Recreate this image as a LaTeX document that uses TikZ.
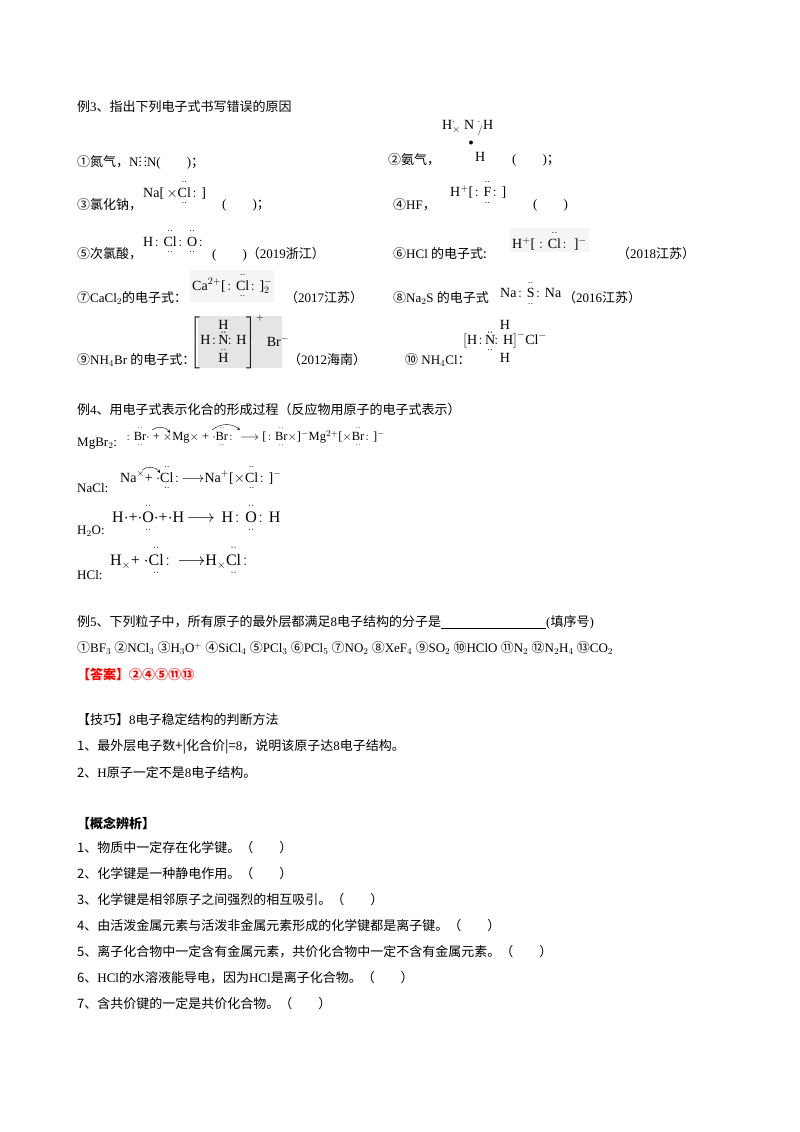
\documentclass[tikz,border=0pt]{standalone}
\usepackage{amsmath}
\usepackage{fontspec}
\setmainfont{Liberation Serif}
\newfontfamily\cjk{Noto Sans CJK SC}
\newcommand\ele[1]{\ensuremath{\overset{\cdot\cdot}{\underset{\cdot\cdot}{\mbox{#1}}}}}
\newcommand\elt[1]{\ensuremath{\overset{\cdot\cdot}{\mbox{#1}}}}
\begin{document}
\begin{tikzpicture}[x=1pt,y=-1pt,
  t/.style={anchor=west,inner sep=0pt,font=\fontsize{13}{15}\selectfont},
  s/.style={anchor=west,inner sep=0pt,font=\fontsize{14}{16}\selectfont}]
\useasboundingbox (0,0) rectangle (800,1132);
\node[t] (e3) at (77,107) {{\cjk 例}3{\cjk 、指出下列电子式书写错误的原因}};
\node[t] (a1) at (77,160) {{\cjk ①氮气，}N$\vdots\,\vdots$N(\qquad){\cjk ；}};
\node[t] (a2) at (388,160) {{\cjk ②氨气，}};
\node[s] (a2a) at (442,128) {H$^{\cdot}_{\times}$\ N\ $^{\cdot}_{/}$H};
\node[s] (a2b) at (475,157) {H};
\node[inner sep=0pt] (a2d) at (471,143) {$\bullet$};
\node[t] (a2c) at (512,160) {(\qquad){\cjk ；}};
\node[t] (a3) at (77,205) {{\cjk ③氯化钠，}};
\node[s] (a3a) at (143,193) {Na[\,$\times$\ele{Cl}$\colon$]};
\node[t] (a3b) at (222,205) {(\qquad){\cjk ；}};
\node[t] (a4) at (393,205) {{\cjk ④}HF{\cjk ，}};
\node[s] (a4a) at (450,193) {H$^{+}$[$\colon$\ele{F}$\colon$]};
\node[t] (a4b) at (533,205) {(\qquad)};
\node[t] (a5) at (77,254) {{\cjk ⑤次氯酸，}};
\node[s] (a5a) at (143,242) {H$\colon$\ele{Cl}$\colon$\ele{O}$\colon$};
\node[t] (a5b) at (212,254) {(\qquad){\cjk （}2019{\cjk 浙江）}};
\node[t] (a6) at (393,254) {{\cjk ⑥}HCl {\cjk 的电子式:}};
\node[s,fill=gray!8,inner sep=2pt] (a6a) at (510,240) {H$^{+}$[\,$\colon$\elt{Cl}$\colon$\,]$^{-}$};
\node[t] (a6b) at (617,254) {{\cjk （}2018{\cjk 江苏）}};
\node[t] (a7) at (77,298) {{\cjk ⑦}CaCl$_2${\cjk 的电子式：}};
\node[s,fill=gray!8,inner sep=2pt] (a7a) at (190,286) {Ca$^{2+}$[$\colon$\ele{Cl}$\colon$]$^{-}_{2}$};
\node[t] (a7b) at (285,298) {{\cjk （}2017{\cjk 江苏）}};
\node[t] (a8) at (393,298) {{\cjk ⑧}Na$_2$S {\cjk 的电子式}};
\node[s] (a8a) at (500,294) {Na$\colon$\ele{S}$\colon$Na};
\node[t] (a8b) at (563,298) {{\cjk （}2016{\cjk 江苏）}};
\node[t] (a9) at (77,360) {{\cjk ⑨}NH$_4$Br {\cjk 的电子式：}};
\node[s,fill=gray!20,minimum width=84pt,minimum height=52pt,anchor=center] (a9a) at (240,342) {};
\node[s,anchor=center] (a9c) at (240,342) {$\left[\begin{array}{@{}c@{}}\mathrm{H}\\[-3pt] \mathrm{H}\colon\!\ddot{\underset{\cdot\cdot}{\mathrm{N}}}\!\colon\mathrm{H}\\[-3pt] \mathrm{H}\end{array}\right]^{+}\mathrm{Br}^{-}$};
\node[t] (a9b) at (288,360) {{\cjk （}2012{\cjk 海南）}};
\node[t] (a10) at (405,360) {{\cjk ⑩} NH$_4$Cl{\cjk ：}};
\node[s,anchor=center] (a10a) at (505,343) {$\begin{array}{c}\mathrm{H}\\[-3pt] {[}\mathrm{H}\colon\!\ddot{\underset{\cdot\cdot}{\mathrm{N}}}\!\colon\mathrm{H}{]}^{-}\mathrm{Cl}^{-}\\[-3pt] \mathrm{H}\end{array}$};
\node[t] (e4) at (77,410) {{\cjk 例}4{\cjk 、用电子式表示化合的形成过程（反应物用原子的电子式表示）}};
\node[t] (m1) at (77,444) {MgBr$_2$:};
\node[s] (m2) at (125,437) {\fontsize{12.5}{13}\selectfont$\colon$\ele{Br}$\cdot$ + $\times$Mg$\times$ + $\cdot$\ele{Br}$\colon$ $\longrightarrow$ [$\colon$\ele{Br}$\times$]$^{-}$Mg$^{2+}$[$\times$\ele{Br}$\colon$]$^{-}$};
\node[t] (n1) at (77,488) {NaCl:};
\node[s] (n2) at (120,478) {Na$^{\times}$+ $\cdot$\ele{Cl}$\colon$$\!\longrightarrow$Na$^{+}$[$\times$\ele{Cl}$\colon$]$^{-}$};
\node[t] (h1) at (77,531) {H$_2$O:};
\node[s] (h2) at (112,518) {\fontsize{16}{18}\selectfont H$\cdot$+$\cdot$\ele{O}$\cdot$+$\cdot$H$\,\longrightarrow\,$ H$\colon$\ele{O}$\colon$H};
\node[t] (c1) at (77,575) {HCl:};
\node[s] (c2) at (110,561) {\fontsize{16}{18}\selectfont H$_{\times}$+ $\cdot$\ele{Cl}$\colon\!\longrightarrow$H$_{\times}$\ele{Cl}$\colon$};
\draw[->,>=stealth,thin] (152,430) to[bend left=50] (170,433);
\draw[->,>=stealth,thin] (212,430) to[bend left=40] (240,430);
\draw[->,>=stealth,thin] (142,470) to[bend left=50] (160,473);
\node[t] (e5) at (77,622) {{\cjk 例}5{\cjk 、下列粒子中，所有原子的最外层都满足}8{\cjk 电子结构的分子是}\underline{\hspace{105pt}}({\cjk 填序号})};
\node[t] (l5) at (77,648) {{\cjk ①}BF$_3$ {\cjk ②}NCl$_3$ {\cjk ③}H$_3$O$^+$ {\cjk ④}SiCl$_4$ {\cjk ⑤}PCl$_3$ {\cjk ⑥}PCl$_5$ {\cjk ⑦}NO$_2$ {\cjk ⑧}XeF$_4$ {\cjk ⑨}SO$_2$ {\cjk ⑩}HClO {\cjk ⑪}N$_2$ {\cjk ⑫}N$_2$H$_4$ {\cjk ⑬}CO$_2$};
\node[t,text=red] (ans) at (77,674) {\cjk\bfseries 【答案】②④⑤⑪⑬};
\node[t] (k0) at (77,720) {{\cjk 【技巧】}8{\cjk 电子稳定结构的判断方法}};
\node[t] (k1) at (77,747) {{\cjk 1、最外层电子数+|化合价|=}8{\cjk ，说明该原子达}8{\cjk 电子结构。}};
\node[t] (k2) at (77,773) {{\cjk 2、}H{\cjk 原子一定不是}8{\cjk 电子结构。}};
\node[t] (g0) at (77,823) {\cjk\bfseries 【概念辨析】};
\node[t] (g1) at (77,848) {\cjk 1、物质中一定存在化学键。（\qquad ）};
\node[t] (g2) at (77,874) {\cjk 2、化学键是一种静电作用。（\qquad ）};
\node[t] (g3) at (77,900) {\cjk 3、化学键是相邻原子之间强烈的相互吸引。（\qquad ）};
\node[t] (g4) at (77,926) {\cjk 4、由活泼金属元素与活泼非金属元素形成的化学键都是离子键。（\qquad ）};
\node[t] (g5) at (77,952) {\cjk 5、离子化合物中一定含有金属元素，共价化合物中一定不含有金属元素。（\qquad ）};
\node[t] (g6) at (77,978) {{\cjk 6、}HCl{\cjk 的水溶液能导电，因为}HCl{\cjk 是离子化合物。（\qquad ）}};
\node[t] (g7) at (77,1004) {\cjk 7、含共价键的一定是共价化合物。（\qquad ）};
\end{tikzpicture}
\end{document}
